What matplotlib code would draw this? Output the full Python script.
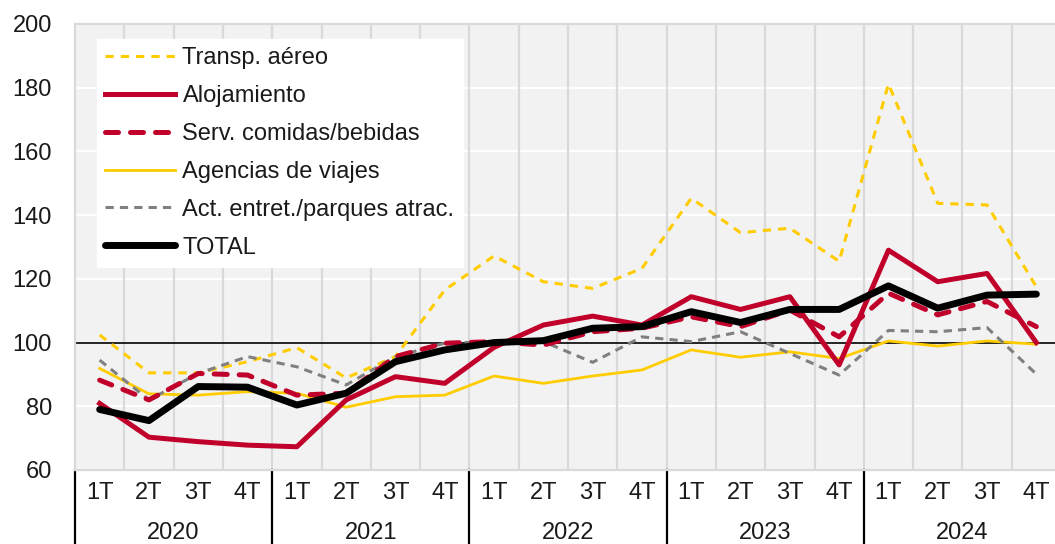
import numpy as np
import matplotlib
matplotlib.use("Agg")
import matplotlib.pyplot as plt
from matplotlib.transforms import blended_transform_factory

plt.rcParams['font.family'] = ['Liberation Sans', 'DejaVu Sans']

years = ["2020", "2021", "2022", "2023", "2024"]
quarters = ["1T", "2T", "3T", "4T"]

transp_aereo = [102.4, 90.5, 90.5, 94.0, 98.4, 88.9, 95.6, 116.5,
                127.2, 119.1, 117.0, 123.3, 145.3, 134.5, 135.9, 125.5,
                181.2, 143.7, 143.2, 117.5]
alojamiento = [80.9, 70.3, 68.9, 67.8, 67.3, 82.0, 89.3, 87.2,
               98.5, 105.5, 108.3, 105.5, 114.4, 110.4, 114.4, 93.0,
               129.0, 119.1, 121.7, 100.0]
serv_comidas = [88.2, 82.0, 90.3, 89.8, 83.5, 84.1, 95.6, 99.8,
                100.3, 99.2, 103.4, 104.5, 108.1, 105.0, 110.2, 101.8,
                115.5, 108.7, 112.9, 105.0]
agencias = [91.9, 83.9, 83.5, 84.6, 84.1, 79.7, 83.0, 83.5,
            89.5, 87.2, 89.5, 91.4, 97.7, 95.4, 97.1, 95.0,
            100.5, 98.9, 100.5, 99.5]
act_entret = [94.5, 82.0, 90.3, 95.6, 92.4, 86.7, 95.6, 99.8,
              100.3, 100.3, 93.8, 101.8, 100.3, 103.4, 96.6, 89.8,
              103.8, 103.4, 104.7, 90.1]
total = [79.0, 75.5, 86.2, 86.0, 80.4, 84.1, 94.0, 97.7,
         100.0, 100.6, 104.5, 105.0, 109.7, 106.3, 110.4, 110.4,
         117.8, 110.8, 114.9, 115.2]

labels = ["Transp. aéreo", "Alojamiento", "Serv. comidas/bebidas",
          "Agencias de viajes", "Act. entret./parques atrac.", "TOTAL"]

YELLOW = "#FFCC00"
RED = "#C0002B"
GRAY = "#808080"
TXT = "#1A1A1A"
FS = 17

fig = plt.figure(figsize=(10.55, 5.44), dpi=100)
ax = fig.add_axes([75/1055, 74/544, 986/1055, 446/544])
ax.set_facecolor("#F2F2F2")

n = len(total)
x = np.arange(n)

# grid
for yv in range(80, 201, 20):
    ax.axhline(yv, color="white", lw=1.6, zorder=0.5)
for b in np.arange(0.5, n - 1, 1):
    ax.axvline(b, color="#D9D9D9", lw=1.6, zorder=0.6)
ax.axhline(100, color="black", lw=1.2, zorder=1)

ax.plot(x, transp_aereo, color=YELLOW, lw=2.2, dashes=(2.7, 2.3), label=labels[0], zorder=2)
ax.plot(x, alojamiento, color=RED, lw=3.6, label=labels[1], zorder=3)
ax.plot(x, serv_comidas, color=RED, lw=3.6, dashes=(2.6, 2.4), dash_capstyle="round",
        label=labels[2], zorder=3)
ax.plot(x, agencias, color=YELLOW, lw=2.0, label=labels[3], zorder=2)
ax.plot(x, act_entret, color=GRAY, lw=2.2, dashes=(2.7, 2.0), label=labels[4], zorder=2)
ax.plot(x, total, color="black", lw=5.0, label=labels[5], zorder=4,
        solid_capstyle="round")

ax.set_xlim(-0.5, n - 0.5)
ax.set_ylim(60, 200)
ax.set_yticks(range(60, 201, 20))
ax.tick_params(axis="y", length=0, pad=16.5, labelsize=FS, labelcolor=TXT)
ax.set_xticks([])
for s in ax.spines.values():
    s.set_color("#D9D9D9")
    s.set_linewidth(1.6)

trans = blended_transform_factory(ax.transData, ax.transAxes)
for i in range(n):
    ax.text(i, -0.052, quarters[i % 4], transform=trans, ha="center", va="center",
            fontsize=FS, color=TXT)
for k, yr in enumerate(years):
    ax.text(4 * k + 1.5, -0.142, yr, transform=trans, ha="center", va="center",
            fontsize=FS, color=TXT)
for k in range(len(years) + 1):
    xb = 4 * k - 0.5
    ax.plot([xb, xb], [0, -0.2], transform=trans, color="black", lw=1.6, clip_on=False)

leg = ax.legend(loc="upper left", bbox_to_anchor=(0.0223, 0.966), borderaxespad=0,
                frameon=True, fancybox=False, framealpha=1, facecolor="white",
                edgecolor="white", fontsize=FS, handlelength=2.97, handletextpad=0.3,
                labelspacing=0.67, borderpad=0.35)
leg.set_zorder(5)
for t in leg.get_texts():
    t.set_color(TXT)

fig.savefig("out.png", dpi=100)
